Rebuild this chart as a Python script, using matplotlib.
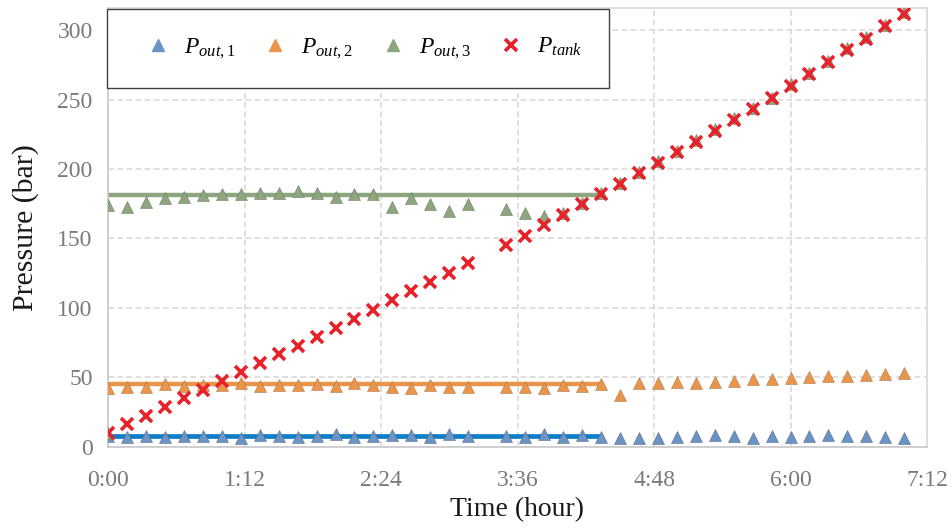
import matplotlib
matplotlib.use("Agg")
import matplotlib.pyplot as plt
from matplotlib.lines import Line2D

plt.rcParams['font.family'] = ['Liberation Serif', 'DejaVu Serif']
plt.rcParams['mathtext.fontset'] = 'custom'
plt.rcParams['mathtext.it'] = 'Liberation Serif:italic'
plt.rcParams['mathtext.rm'] = 'Liberation Serif'

# time of each sample, minutes (no sample at 200)
t_min = [0, 10, 20, 30, 40, 50, 60, 70, 80, 90, 100, 110, 120, 130, 140, 150, 160, 170, 180, 190,
         210, 220, 230, 240, 250, 260, 270, 280, 290, 300, 310, 320, 330, 340, 350, 360, 370, 380,
         390, 400, 410, 420]

p_out1 = [8.0, 7.2, 7.5, 7.2, 7.5, 7.5, 7.9, 6.5, 8.4, 7.7, 7.2, 7.7, 9.1, 6.7, 7.7, 8.4, 8.4, 6.7, 9.1, 7.9,
          7.7, 6.7, 9.1, 7.2, 8.4, 7.2, 6.5, 6.5, 6.5, 7.2, 7.9, 8.4, 7.7, 6.5, 7.7, 7.2, 7.9, 8.4,
          7.9, 7.7, 7.2, 6.5]

p_out2 = [42.1, 43.2, 43.2, 45.0, 44.0, 44.5, 44.5, 45.7, 43.7, 44.4, 44.4, 45.2, 43.7, 45.7, 44.4, 43.2,
          42.5, 44.4, 43.2, 43.2, 42.8, 43.2, 42.3, 44.4, 43.9, 45.0, 37.2, 46.1, 46.1, 46.8, 46.1, 46.8,
          47.6, 48.8, 48.8, 49.2, 50.0, 50.9, 50.9, 51.7, 52.1, 52.9]

p_out3 = [174, 173, 176, 179, 180, 181, 182, 182, 183, 183, 184, 183, 180, 182, 182, 173, 179, 175, 170, 175,
          171, 168, 166.4, 168.6, 175.5, 183, 190, 198, 205.5, 213, 221, 228.5, 236.5, 244, 251.5, 261,
          269.5, 278, 287, 295, 304, 313]

# extra P_out,3 sample sitting at the origin
p_out3_t0 = [0]
p_out3_v0 = [9.6]

p_tank = [9.6, 16, 22, 28.8, 34.9, 40.8, 47.6, 53.6, 60, 66.5, 72.8, 79.3, 85.3, 92, 98.5, 105.5, 112,
          118.7, 125, 132.6, 145.3, 151.8, 159.7, 167, 174.6, 182, 189, 197, 204.6, 212, 219.8, 227.4,
          235.4, 243, 251, 259.9, 268.5, 276.9, 285.8, 294, 303, 312]

# reference levels (0:00 to 4:20)
ref_t = [0, 260]
ref_out1 = 8
ref_out2 = 45
ref_out3 = 181

xtick_labels = ["0:00", "1:12", "2:24", "3:36", "4:48", "6:00", "7:12"]
xtick_hours = [0, 1.2, 2.4, 3.6, 4.8, 6.0, 7.2]
yticks = [0, 50, 100, 150, 200, 250, 300]

c_blue = '#6B93C3'
c_orange = '#E9964C'
c_green = '#8DA67F'
c_red = '#E8222B'
c_blue_line = '#0A7EC8'

hours = [t / 60 for t in t_min]
ref_h = [t / 60 for t in ref_t]

fig = plt.figure(figsize=(9.52, 5.28), dpi=100)
ax = fig.add_axes([108 / 952, 1 - 446.7 / 528, (927 - 108) / 952, (446.7 - 8) / 528])

ax.plot(ref_h, [ref_out1] * 2, color=c_blue_line, lw=3.4, solid_capstyle='butt', zorder=2)
ax.plot(ref_h, [ref_out2] * 2, color=c_orange, lw=3.2, solid_capstyle='butt', zorder=2)
ax.plot(ref_h, [ref_out3] * 2, color=c_green, lw=3.2, solid_capstyle='butt', zorder=2)

mk = dict(linestyle='none', marker='^', markersize=8.8, markeredgewidth=0.4, zorder=3)
ax.plot(hours, p_out1, color=c_blue, markeredgecolor='#5a6f8c', **mk)
ax.plot(hours, p_out2, color=c_orange, markeredgecolor='#b07a48', **mk)
ax.plot(hours, p_out3, color=c_green, markeredgecolor='#6f7f66', **mk)
ax.plot([t / 60 for t in p_out3_t0], p_out3_v0, color=c_green, markeredgecolor='#6f7f66', **mk)
ax.plot(hours, p_tank, linestyle='none', marker='x', markersize=8.5, markeredgewidth=2.6,
        color=c_red, zorder=4)

ax.set_xlim(0, 7.2)
ax.set_ylim(0, 316)
ax.set_xticks(xtick_hours)
ax.set_xticklabels(xtick_labels)
ax.set_yticks(yticks)
ax.tick_params(length=0, labelsize=17, labelcolor='#7a7a7a')
ax.tick_params(axis='x', pad=17)
ax.tick_params(axis='y', pad=11)
ax.grid(True, color='#D9D9D9', lw=1.2, linestyle=(0, (3.5, 2)))
ax.set_axisbelow(True)
for s in ax.spines.values():
    s.set_color('#D9D9D9')
    s.set_linewidth(1.2)
ax.spines['left'].set_color('#C8C8C8')
ax.spines['bottom'].set_color('#C8C8C8')

ax.set_xlabel("Time (hour)", fontsize=20, color='#1a1a1a', labelpad=4)
ax.set_ylabel("Pressure (bar)", fontsize=21.5, color='#1a1a1a', labelpad=13)

handles = [
    Line2D([], [], linestyle='none', marker='^', markersize=8.8, color=c_blue),
    Line2D([], [], linestyle='none', marker='^', markersize=8.8, color=c_orange),
    Line2D([], [], linestyle='none', marker='^', markersize=8.8, color=c_green),
    Line2D([], [], linestyle='none', marker='x', markersize=8.5, markeredgewidth=2.6, color=c_red),
]
labels = [r'$\mathit{P_{out,1}}$', r'$\mathit{P_{out,2}}$', r'$\mathit{P_{out,3}}$', r'$\mathit{P_{tank}}$']
leg = ax.legend(handles, labels, loc='upper left', ncol=4, fontsize=17,
                bbox_to_anchor=(107 / 952, 1 - 9 / 528), bbox_transform=fig.transFigure,
                borderaxespad=0, frameon=True, fancybox=False, borderpad=1.15,
                handlelength=2.0, handletextpad=0.1, columnspacing=0.7)
leg.get_frame().set_edgecolor('#404040')
leg.get_frame().set_linewidth(1.0)
leg.get_frame().set_alpha(1)
leg.set_zorder(10)

fig.savefig("out.png", dpi=100)
